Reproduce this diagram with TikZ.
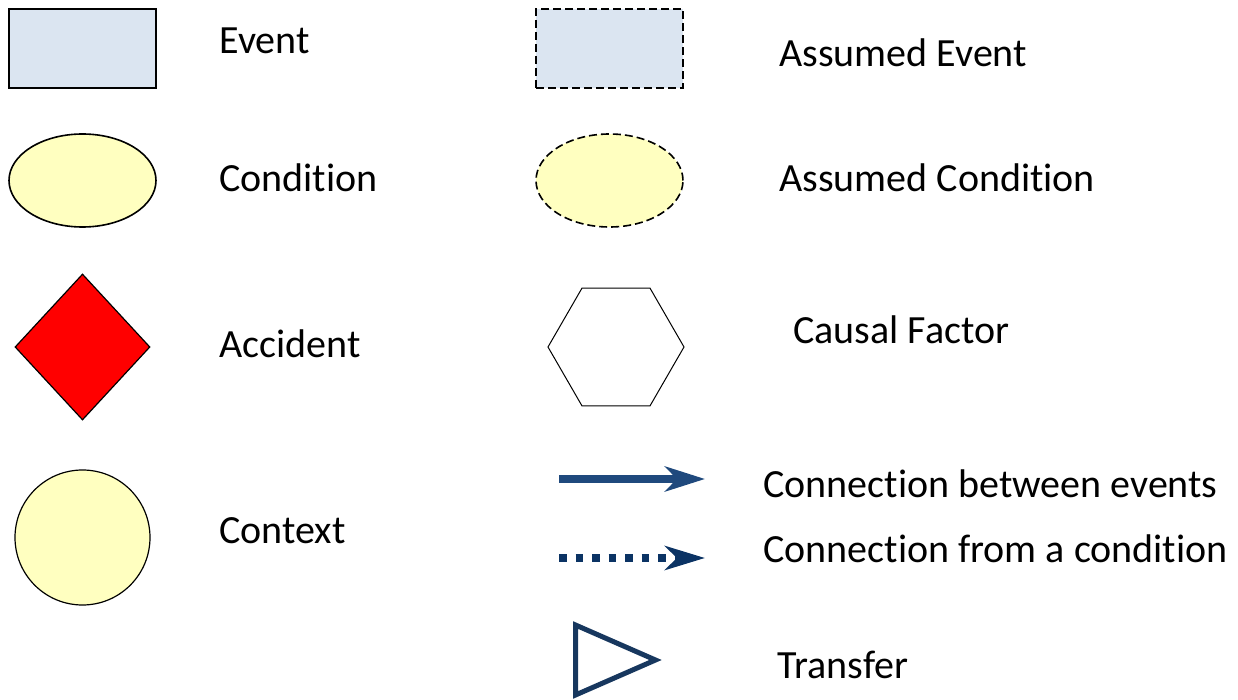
\documentclass[tikz,border=0pt]{standalone}
\usepackage{fontspec}
\setmainfont{Carlito}[Ligatures=NoCommon]
\usetikzlibrary{arrows.meta,shapes.geometric}
\usepackage{xcolor}

\definecolor{eventblue}{HTML}{DBE5F1}
\definecolor{condyellow}{HTML}{FFFFC0}
\definecolor{arrowblue}{HTML}{1F497D}
\definecolor{navy}{HTML}{0B3364}
\definecolor{transferblue}{HTML}{17375E}

\tikzset{
	legendtext/.style={anchor=base west,inner sep=0pt,font=\fontsize{20}{24}\selectfont},
	eventbox/.style={rectangle,draw=black,line width=1pt,fill=eventblue,minimum width=73.5pt,minimum height=39.5pt,inner sep=0pt},
	condition/.style={ellipse,draw=black,line width=0.8pt,fill=condyellow,minimum width=73.5pt,minimum height=46.5pt,inner sep=0pt},
	assumed/.style={dash pattern=on 4pt off 2pt}
}

\begin{document}
\begin{tikzpicture}[x=0.5pt,y=-0.5pt]
	\useasboundingbox (0,0) rectangle (1238,700);

	% event
	\node[eventbox] (event) at (82.5,48.5) {};
	\node[legendtext] (eventtxt) at (219,54) {Event};

	% assumed event
	\node[eventbox,assumed] (aevent) at (609.5,48.5) {};
	\node[legendtext] (aeventtxt) at (779,67) {Assumed Event};

	% condition
	\node[condition] (cond) at (82.5,180.5) {};
	\node[legendtext] (condtxt) at (219,192) {Condition};

	% assumed condition
	\node[condition,assumed] (acond) at (609.5,180.5) {};
	\node[legendtext] (acondtxt) at (779,192) {Assumed Condition};

	% accident
	\node[diamond,draw=black,line width=0.6pt,fill=red,minimum width=67.5pt,minimum height=73pt,inner sep=0pt] (accident) at (82.5,347) {};
	\node[legendtext] (accidenttxt) at (219,358) {Accident};

	% causal factor
	\node[regular polygon,regular polygon sides=6,draw=black,line width=0.5pt,minimum size=68pt,inner sep=0pt] (factor) at (616,347) {};
	\node[legendtext] (factortxt) at (793,344) {Causal Factor};

	% context
	\node[circle,draw=black,line width=0.6pt,fill=condyellow,minimum size=67.5pt,inner sep=0pt] (context) at (82.5,537.5) {};
	\node[legendtext] (contexttxt) at (219,543) {Context};

	% connections
	\coordinate (evstart) at (559,479);
	\coordinate (evend) at (705,479);
	\draw[-{Stealth[length=20pt,width=12.5pt,inset=6pt]},line width=4pt,arrowblue] (evstart) -- (evend);
	\node[legendtext] (evtxt) at (763,497) {Connection between events};

	\coordinate (costart) at (559,558);
	\coordinate (coend) at (705,558);
	\draw[-{Stealth[length=20pt,width=12pt,inset=6pt]},line width=3.75pt,navy,dash pattern=on 3.75pt off 4.5pt] (costart) -- (coend);
	\node[legendtext] (cotxt) at (763,562) {Connection from a condition};

	% transfer
	\node[isosceles triangle,isosceles triangle stretches,draw=transferblue,line width=2.5pt,minimum width=35pt,minimum height=40pt,inner sep=0pt,anchor=lower side] (transfer) at (573,660) {};
	\node[legendtext] (transfertxt) at (777,678) {Transfer};

\end{tikzpicture}
\end{document}
